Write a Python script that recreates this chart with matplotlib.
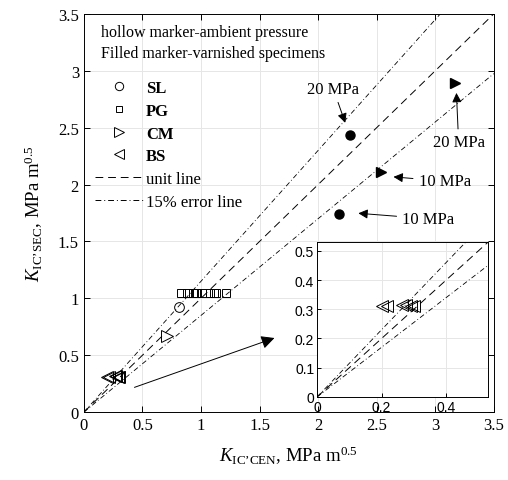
import numpy as np
import matplotlib
matplotlib.use("Agg")
from matplotlib import pyplot as plt
from matplotlib.lines import Line2D
from matplotlib.ticker import FormatStrFormatter, MultipleLocator

plt.rcParams['font.family'] = 'Liberation Serif'
plt.rcParams['mathtext.fontset'] = 'custom'
plt.rcParams['mathtext.rm'] = 'Liberation Serif'
plt.rcParams['mathtext.it'] = 'Liberation Serif:italic'

# data
sl_x, sl_y = [0.81], [0.92]
pg_x = [0.83, 0.88, 0.93, 0.96, 0.97, 1.01, 1.08, 1.11, 1.13, 1.21]
pg_y = [1.05] * len(pg_x)
cm_x, cm_y = [0.71], [0.67]
bs_x = [0.20, 0.217, 0.263, 0.276, 0.29, 0.30]
bs_y = [0.31, 0.31, 0.315, 0.315, 0.31, 0.31]

# varnished specimens (filled)
sl_v_x, sl_v_y = [2.27, 2.18], [2.44, 1.74]
cm_v_x, cm_v_y = [2.54, 3.17], [2.11, 2.89]

err = 0.15
xl = np.array([0, 3.5])

fig = plt.figure(figsize=(5.08, 4.81), dpi=100)
ax = fig.add_axes([0.165, 0.141, 0.807, 0.828])

ax.plot(xl, xl, color='k', ls=(0, (8, 5)), lw=0.7)
ax.plot(xl, (1 + err) * xl, color='k', ls=(0, (6, 3, 1, 3)), lw=0.6)
ax.plot(xl, (1 - err) * xl, color='k', ls=(0, (6, 3, 1, 3)), lw=0.6)

mk = dict(ls='none', mfc='none', mec='k', mew=0.7)
ax.plot(sl_x, sl_y, 'o', ms=7, **mk)
ax.plot(pg_x, pg_y, 's', ms=5.5, **mk)
ax.plot(cm_x, cm_y, '>', ms=8, **mk)
ax.plot(bs_x, bs_y, '<', ms=8, **mk)
ax.plot(sl_v_x, sl_v_y, 'o', ms=6.5, color='k', ls='none')
ax.plot(cm_v_x, cm_v_y, '>', ms=7.5, color='k', ls='none')

ax.set_xlim(0, 3.5)
ax.set_ylim(0, 3.5)
ax.xaxis.set_major_locator(MultipleLocator(0.5))
ax.yaxis.set_major_locator(MultipleLocator(0.5))
ax.xaxis.set_major_formatter(FormatStrFormatter('%g'))
ax.yaxis.set_major_formatter(FormatStrFormatter('%g'))
ax.grid(True, color='#e6e6e6', lw=0.7)
ax.set_axisbelow(True)
ax.tick_params(direction='in', top=True, right=True, labelsize=12, length=4, width=0.7)
for s in ax.spines.values():
    s.set_linewidth(0.7)

ax.set_xlabel(r"$K_{\mathrm{IC’CEN}}$, MPa m$^{0.5}$", fontsize=13.5, labelpad=8)
ax.set_ylabel(r"$K_{\mathrm{IC’SEC}}$, MPa m$^{0.5}$", fontsize=13.5, labelpad=9)

# header texts
ax.text(0.15, 3.34, 'hollow marker-ambient pressure', fontsize=11.5, va='center')
ax.text(0.15, 3.155, 'Filled marker-varnished specimens', fontsize=11.5, va='center')

handles = [
    Line2D([], [], marker='o', ms=6, **mk),
    Line2D([], [], marker='s', ms=5, **mk),
    Line2D([], [], marker='>', ms=7, **mk),
    Line2D([], [], marker='<', ms=7, **mk),
    Line2D([], [], color='k', ls=(0, (8, 5)), lw=0.7),
    Line2D([], [], color='k', ls=(0, (6, 3, 1, 3)), lw=0.7),
]
labels = ['SL', 'PG', 'CM', 'BS', 'unit line', '15% error line']
leg = ax.legend(handles, labels, loc='upper left', bbox_to_anchor=(0.01, 0.85),
                frameon=False, fontsize=12, handlelength=2.9, handletextpad=0.2,
                labelspacing=0.4, borderaxespad=0)
for t in leg.get_texts()[:4]:
    t.set_fontweight('bold')

# annotations
ap = dict(arrowstyle='-|>', color='k', lw=0.7, mutation_scale=14)
ax.annotate('20 MPa', xy=(2.24, 2.52), xytext=(2.13, 2.84), fontsize=12,
            ha='center', va='center', arrowprops=ap)
ax.annotate('20 MPa', xy=(3.18, 2.83), xytext=(3.2, 2.37), fontsize=12,
            ha='center', va='center', arrowprops=ap)
ax.annotate('10 MPa', xy=(2.62, 2.07), xytext=(3.08, 2.03), fontsize=12,
            ha='center', va='center', arrowprops=ap)
ax.annotate('10 MPa', xy=(2.32, 1.75), xytext=(2.94, 1.7), fontsize=12,
            ha='center', va='center', arrowprops=ap)
ax.annotate('', xy=(1.65, 0.66), xytext=(0.41, 0.21),
            arrowprops=dict(arrowstyle='-|>', color='k', lw=0.7, mutation_scale=20))

# inset
ins = fig.add_axes([0.624, 0.1726, 0.337, 0.3222])
ins.plot(xl, xl, color='k', ls=(0, (8, 5)), lw=0.7)
ins.plot(xl, (1 + err) * xl, color='k', ls=(0, (6, 3, 1, 3)), lw=0.6)
ins.plot(xl, (1 - err) * xl, color='k', ls=(0, (6, 3, 1, 3)), lw=0.6)
ins.plot(bs_x, bs_y, '<', ms=8, **mk)
ins.set_xlim(0, 0.53)
ins.set_ylim(0, 0.53)
ins.set_xticks([0, 0.2, 0.4])
ins.set_yticks([0, 0.1, 0.2, 0.3, 0.4, 0.5])
ins.xaxis.set_major_formatter(FormatStrFormatter('%g'))
ins.yaxis.set_major_formatter(FormatStrFormatter('%g'))
ins.grid(True, color='#e6e6e6', lw=0.7)
ins.tick_params(direction='in', labelsize=10, length=3, width=0.7, pad=2)
for t in ins.get_xticklabels() + ins.get_yticklabels():
    t.set_family('Liberation Sans')
for s in ins.spines.values():
    s.set_linewidth(0.7)

fig.savefig('out.png', dpi=100)
